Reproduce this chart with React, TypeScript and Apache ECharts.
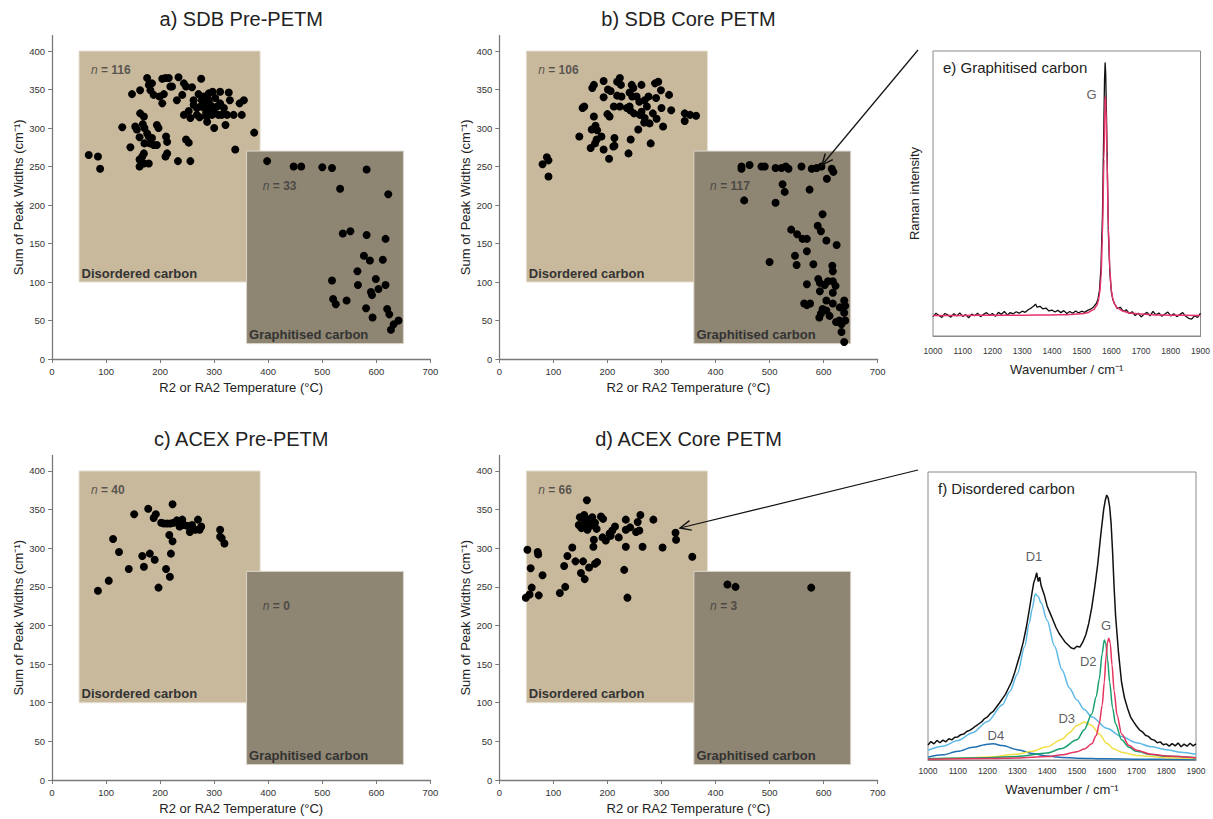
import React, { useEffect, useRef } from "react";
import * as echarts from "echarts";

const FONT = '"Liberation Sans", Arial, Helvetica, sans-serif';
const TAN = "#c9b99c";
const DARK = "#8e8572";
const AXIS = "#7a7a7a";

// ---------- tick labels ----------
const tempTicks = [0, 100, 200, 300, 400, 500, 600, 700];
const widthTicks = [0, 50, 100, 150, 200, 250, 300, 350, 400];

// ---------- panel a: SDB Pre-PETM ----------
const aDisordered: number[][] = [
  [68, 265], [85, 263], [89, 247], [130, 301], [145, 275], [148, 344], [154, 302], [157, 298], [162, 288], [163, 349],
  [162, 259], [162, 250], [163, 319], [170, 315], [168, 305], [171, 300], [176, 365], [179, 356], [182, 349], [185, 358],
  [188, 343], [176, 293], [179, 289], [181, 280], [185, 287], [188, 278], [171, 280], [170, 267], [170, 254], [179, 254],
  [167, 263], [194, 304], [197, 300], [194, 278], [199, 341], [204, 332], [207, 344], [204, 364], [210, 365], [216, 365],
  [219, 354], [222, 354], [211, 289], [213, 282], [210, 263], [213, 267], [234, 366], [241, 343], [244, 358], [248, 354],
  [231, 336], [244, 317], [248, 285], [253, 281], [233, 257], [256, 257], [256, 313], [259, 353], [262, 336], [268, 326],
  [271, 344], [273, 314], [276, 364], [277, 336], [281, 341], [282, 326], [286, 331], [286, 315], [287, 308], [290, 336],
  [292, 321], [293, 330], [296, 317], [297, 347], [300, 300], [302, 339], [305, 328], [308, 317], [311, 347], [314, 317],
  [318, 326], [321, 304], [324, 317], [327, 346], [329, 336], [339, 272], [347, 332], [351, 317], [355, 336], [374, 294],
  [285, 319], [299, 323], [275, 328], [268, 317], [290, 345], [311, 332], [253, 322], [262, 330], [336, 317],
];
const aGraphitised: number[][] = [
  [398, 257], [447, 250], [461, 250], [500, 249], [518, 248], [582, 246], [533, 221], [622, 214], [538, 163], [552, 166],
  [582, 161], [617, 156], [577, 134], [588, 128], [612, 129], [565, 114], [518, 102], [599, 104], [566, 96], [604, 91],
  [617, 96], [590, 87], [592, 83], [520, 78], [525, 71], [545, 76], [581, 66], [620, 65], [624, 58], [593, 54],
  [641, 50], [632, 45], [627, 38],
];

// ---------- panel b: SDB Core PETM ----------
const bDisordered: number[][] = [
  [80, 253], [88, 262], [91, 258], [91, 237], [148, 289], [154, 326], [157, 328], [169, 274], [171, 298], [172, 352],
  [175, 356], [175, 315], [177, 280], [178, 303], [181, 297], [180, 285], [189, 289], [193, 272], [193, 361], [193, 340],
  [200, 318], [201, 350], [203, 260], [206, 348], [213, 277], [213, 287], [212, 328], [218, 342], [218, 360], [223, 328],
  [223, 365], [225, 356], [226, 341], [239, 267], [241, 328], [242, 323], [243, 285], [241, 346], [245, 356], [248, 352],
  [246, 341], [254, 341], [257, 298], [259, 334], [263, 356], [263, 321], [268, 307], [269, 313], [273, 328], [276, 341],
  [278, 306], [280, 280], [284, 319], [288, 358], [290, 339], [291, 312], [294, 360], [299, 349], [300, 326], [303, 302],
  [314, 343], [318, 323], [343, 319], [343, 309], [353, 317], [364, 316], [269, 336], [260, 317], [249, 319], [236, 326],
  [211, 276], [204, 315],
];
const bGraphitised: number[][] = [
  [448, 250], [448, 247], [463, 252], [485, 250], [491, 250], [511, 248], [522, 248], [530, 250], [535, 247], [559, 250],
  [578, 247], [587, 248], [596, 250], [615, 247], [618, 243], [606, 234], [524, 227], [528, 217], [574, 220], [453, 206],
  [511, 203], [598, 188], [540, 168], [551, 162], [561, 156], [569, 156], [589, 173], [595, 166], [605, 154], [624, 148],
  [547, 134], [550, 122], [569, 140], [581, 123], [500, 126], [616, 121], [617, 114], [617, 101], [622, 95], [617, 86],
  [590, 104], [593, 99], [602, 96], [608, 101], [569, 97], [593, 88], [605, 76], [617, 72], [564, 72], [569, 70],
  [575, 72], [638, 76], [640, 69], [630, 67], [638, 60], [640, 50], [623, 48], [629, 50], [595, 59], [598, 65],
  [605, 63], [592, 54], [633, 35], [638, 22], [633, 45], [611, 56],
];

// ---------- panel c: ACEX Pre-PETM ----------
const cDisordered: number[][] = [
  [85, 245], [105, 258], [113, 312], [124, 295], [142, 273], [152, 344], [167, 290], [170, 276], [178, 351], [181, 293],
  [188, 339], [190, 285], [192, 344], [197, 249], [202, 333], [207, 332], [211, 273], [213, 332], [217, 317], [218, 263],
  [219, 332], [220, 293], [223, 357], [223, 309], [225, 333], [231, 336], [236, 328], [241, 337], [244, 330], [250, 329],
  [255, 321], [259, 330], [265, 324], [270, 337], [273, 324], [276, 328], [311, 324], [311, 315], [314, 313], [319, 306],
];
const cGraphitised: number[][] = [];

// ---------- panel d: ACEX Core PETM ----------
const dDisordered: number[][] = [
  [52, 298], [49, 236], [56, 240], [58, 274], [60, 249], [71, 295], [72, 292], [73, 239], [80, 265], [112, 242],
  [120, 277], [122, 250], [126, 290], [135, 301], [141, 283], [149, 340], [147, 330], [151, 268], [155, 283], [157, 343],
  [158, 260], [160, 333], [163, 324], [162, 362], [165, 337], [166, 275], [171, 330], [172, 340], [174, 302], [175, 311],
  [177, 333], [177, 280], [180, 325], [181, 282], [188, 341], [191, 314], [192, 338], [197, 310], [204, 319], [206, 316],
  [209, 323], [214, 328], [221, 314], [231, 272], [234, 337], [234, 302], [234, 324], [237, 236], [242, 327], [253, 321],
  [256, 334], [259, 323], [261, 343], [265, 302], [285, 337], [302, 301], [326, 320], [327, 311], [357, 289], [155, 338],
  [166, 328], [152, 326],
];
const dGraphitised: number[][] = [[422, 253], [437, 250], [577, 249]];

// ---------- e) graphitised carbon spectrum ----------
const wavenumberTicks = [1000, 1100, 1200, 1300, 1400, 1500, 1600, 1700, 1800, 1900];
const eMeasured: number[][] = [
  [1000, 6.8], [1010, 8.0], [1020, 7.2], [1030, 6.5], [1040, 7.9], [1050, 7.4], [1060, 6.6], [1070, 7.8], [1080, 7.0],
  [1090, 8.1], [1100, 6.9], [1110, 7.5], [1120, 6.4], [1130, 7.7], [1140, 7.1], [1150, 8.0], [1160, 6.8], [1170, 7.6],
  [1180, 8.2], [1190, 7.3], [1200, 7.9], [1210, 6.9], [1220, 8.3], [1230, 7.6], [1240, 8.6], [1250, 7.4], [1260, 8.2],
  [1270, 7.8], [1280, 8.5], [1290, 8.0], [1300, 8.7], [1310, 8.3], [1320, 9.2], [1330, 9.8], [1340, 10.6], [1345, 11.2],
  [1350, 10.1], [1360, 10.4], [1370, 9.5], [1380, 9.8], [1390, 8.8], [1400, 9.1], [1410, 8.4], [1420, 9.0], [1430, 8.2],
  [1440, 8.9], [1450, 7.9], [1460, 8.6], [1470, 8.0], [1480, 8.8], [1490, 8.1], [1500, 8.7], [1510, 8.3], [1520, 9.0],
  [1530, 9.4], [1540, 10.2], [1550, 11.5], [1555, 13.0], [1560, 16.0], [1565, 24.0], [1570, 42.0], [1574, 70.0],
  [1577, 90.0], [1579, 96.0], [1581, 92.0], [1584, 75.0], [1587, 55.0], [1590, 36.0], [1595, 22.0], [1600, 15.5],
  [1605, 12.8], [1610, 11.5], [1620, 9.6], [1630, 10.1], [1640, 8.6], [1650, 9.2], [1660, 7.9], [1670, 8.5], [1680, 7.2],
  [1690, 8.0], [1700, 6.7], [1710, 7.6], [1720, 8.3], [1730, 7.1], [1740, 8.6], [1750, 7.4], [1760, 8.1], [1770, 6.9],
  [1780, 7.7], [1790, 8.4], [1800, 7.0], [1810, 7.8], [1820, 6.8], [1830, 7.5], [1840, 8.2], [1850, 6.9], [1860, 6.2],
  [1870, 5.9], [1880, 7.1], [1890, 6.5], [1900, 8.0],
];
const eFitG: number[][] = [
  [1000, 7.2], [1100, 7.2], [1200, 7.3], [1300, 7.3], [1400, 7.4], [1450, 7.5], [1500, 7.8], [1520, 8.2], [1540, 9.2],
  [1550, 10.5], [1555, 11.8], [1560, 14.5], [1565, 20.0], [1570, 35.0], [1575, 62.0], [1578, 80.0], [1580, 84.0],
  [1582, 80.0], [1585, 64.0], [1590, 38.0], [1595, 23.0], [1600, 16.0], [1605, 13.0], [1610, 11.3], [1620, 9.8],
  [1640, 8.7], [1660, 8.1], [1700, 7.7], [1750, 7.4], [1800, 7.3], [1900, 7.2],
];

// ---------- f) disordered carbon spectrum ----------
const fMeasured: number[][] = [
  [1000, 5.2], [1010, 6.4], [1020, 5.6], [1030, 6.8], [1040, 6.0], [1050, 6.9], [1060, 6.3], [1070, 7.4], [1080, 7.0],
  [1090, 7.9], [1100, 8.0], [1110, 8.8], [1120, 9.0], [1130, 9.9], [1140, 10.3], [1150, 11.0], [1160, 11.8], [1170, 12.5],
  [1180, 13.2], [1190, 14.4], [1200, 15.0], [1210, 16.2], [1220, 17.0], [1230, 18.4], [1240, 19.8], [1250, 21.3],
  [1260, 22.8], [1270, 24.9], [1280, 27.0], [1290, 30.0], [1300, 33.5], [1310, 37.0], [1320, 41.0], [1330, 46.0],
  [1340, 52.0], [1350, 58.5], [1355, 61.5], [1360, 63.0], [1365, 65.0], [1370, 62.0], [1375, 63.5], [1380, 60.5],
  [1390, 57.5], [1400, 53.5], [1410, 51.0], [1420, 48.5], [1430, 46.0], [1440, 44.0], [1450, 42.5], [1460, 41.0],
  [1470, 40.0], [1480, 39.0], [1490, 38.6], [1500, 39.5], [1510, 39.2], [1520, 41.0], [1530, 43.5], [1540, 47.5],
  [1550, 53.0], [1560, 60.0], [1570, 68.0], [1580, 78.0], [1590, 87.0], [1595, 90.0], [1600, 92.0], [1605, 91.0],
  [1610, 88.0], [1615, 82.0], [1620, 72.0], [1625, 60.0], [1630, 50.0], [1640, 37.0], [1650, 27.0], [1660, 21.5],
  [1670, 18.0], [1680, 15.0], [1690, 13.3], [1700, 11.8], [1710, 10.5], [1720, 9.8], [1730, 8.6], [1740, 8.2],
  [1750, 7.2], [1760, 6.9], [1770, 6.0], [1780, 6.3], [1790, 5.3], [1800, 5.6], [1810, 4.8], [1820, 5.7], [1830, 4.9],
  [1840, 5.9], [1850, 4.6], [1860, 5.5], [1870, 4.8], [1880, 5.8], [1890, 4.9], [1900, 5.6],
];
const fD1: number[][] = [
  [1000, 3.4], [1050, 4.8], [1100, 6.8], [1150, 9.5], [1200, 13.4], [1250, 19.2], [1275, 23.8], [1300, 29.8],
  [1325, 39.5], [1340, 47.5], [1350, 52.5], [1360, 57.6], [1370, 56.8], [1380, 54.5], [1400, 48.5], [1425, 39.5],
  [1450, 31.3], [1475, 25.0], [1500, 20.8], [1525, 17.5], [1550, 15.0], [1600, 11.0], [1650, 8.2], [1700, 6.0],
  [1750, 4.6], [1800, 3.6], [1850, 2.7], [1900, 2.0],
];
const fD4: number[][] = [
  [1000, 1.0], [1050, 1.8], [1100, 3.0], [1150, 4.4], [1200, 5.5], [1220, 5.6], [1250, 5.0], [1300, 3.6], [1350, 2.3],
  [1400, 1.4], [1450, 0.9], [1500, 0.6], [1600, 0.4], [1700, 0.3], [1900, 0.2],
];
const fD3: number[][] = [
  [1000, 0.4], [1100, 0.6], [1200, 1.0], [1300, 2.0], [1350, 3.0], [1400, 4.6], [1450, 7.2], [1475, 9.5], [1500, 12.0],
  [1525, 13.2], [1550, 12.0], [1575, 9.0], [1600, 5.8], [1625, 3.8], [1650, 2.7], [1700, 1.6], [1800, 0.8], [1900, 0.5],
];
const fD2: number[][] = [
  [1000, 0.5], [1200, 0.8], [1300, 1.2], [1400, 2.4], [1450, 4.0], [1500, 7.0], [1525, 10.5], [1550, 16.0], [1565, 22.0],
  [1575, 28.0], [1585, 37.0], [1592, 41.7], [1597, 40.5], [1603, 35.0], [1610, 27.0], [1620, 18.0], [1630, 12.5],
  [1650, 7.0], [1675, 4.4], [1700, 3.0], [1750, 1.9], [1800, 1.3], [1900, 0.8],
];
const fG: number[][] = [
  [1000, 0.3], [1200, 0.5], [1300, 0.7], [1400, 1.2], [1450, 1.8], [1500, 2.9], [1525, 3.8], [1550, 5.6], [1565, 8.5],
  [1575, 12.5], [1585, 19.0], [1592, 27.0], [1598, 36.0], [1603, 41.0], [1607, 42.3], [1612, 40.5], [1618, 33.0],
  [1625, 24.0], [1635, 15.5], [1650, 9.0], [1675, 5.0], [1700, 3.4], [1750, 2.0], [1800, 1.4], [1900, 0.8],
];
const ePeakLabels: (number | string)[][] = [[1533, 84.6, "G"]];
const fPeakLabels: (number | string)[][] = [
  [1356, 70.6, "D1"], [1538, 34.1, "D2"], [1598, 46.6, "G"], [1466, 14.5, "D3"], [1228, 8.4, "D4"],
];

// ---------- panels ----------
const panels = [
  { title: "a) SDB Pre-PETM", dis: aDisordered, gra: aGraphitised, nDis: 116, nGra: 33 },
  { title: "b) SDB Core PETM", dis: bDisordered, gra: bGraphitised, nDis: 106, nGra: 117 },
  { title: "c) ACEX Pre-PETM", dis: cDisordered, gra: cGraphitised, nDis: 40, nGra: 0 },
  { title: "d) ACEX Core PETM", dis: dDisordered, gra: dGraphitised, nDis: 66, nGra: 3 },
];
const scatterGrids = [
  { left: 52, top: 35.6, width: 378.4, height: 323.4 },
  { left: 499.3, top: 35.6, width: 378.4, height: 323.4 },
  { left: 52, top: 455.5, width: 378.4, height: 324.5 },
  { left: 499.3, top: 455.5, width: 378.4, height: 324.5 },
];
const eGrid = { left: 933, top: 51, width: 270, height: 285 };
const fGrid = { left: 928, top: 472, width: 268, height: 288 };

function arrowElements(x1: number, y1: number, x2: number, y2: number) {
  const dx = x1 - x2;
  const dy = y1 - y2;
  const len = Math.sqrt(dx * dx + dy * dy);
  const ux = dx / len;
  const uy = dy / len;
  const a = (24 * Math.PI) / 180;
  const h = 12;
  const w1 = [x2 + h * (ux * Math.cos(a) - uy * Math.sin(a)), y2 + h * (ux * Math.sin(a) + uy * Math.cos(a))];
  const w2 = [x2 + h * (ux * Math.cos(a) + uy * Math.sin(a)), y2 + h * (-ux * Math.sin(a) + uy * Math.cos(a))];
  return [
    { type: "line", z: 100, shape: { x1, y1, x2, y2 }, style: { stroke: "#111", lineWidth: 1.2 } },
    { type: "polyline", z: 100, shape: { points: [w1, [x2, y2], w2] }, style: { stroke: "#111", lineWidth: 1.4, fill: null } },
  ];
}

function buildOption() {
  const grid: any[] = [];
  const xAxis: any[] = [];
  const yAxis: any[] = [];
  const series: any[] = [];
  const graphic: any[] = [];

  panels.forEach((p, i) => {
    const g = scatterGrids[i];
    grid.push({ ...g, containLabel: false });
    xAxis.push({
      gridIndex: i, type: "value", min: 0, max: 700, interval: 100,
      axisLine: { show: true, lineStyle: { color: AXIS, width: 1.3 } },
      axisTick: { show: true, length: 4, lineStyle: { color: AXIS }, customValues: tempTicks },
      axisLabel: { fontSize: 9.5, color: "#333", margin: 7, fontFamily: FONT, customValues: tempTicks, formatter: (v: number) => String(v) },
      splitLine: { show: false },
      name: "R2 or RA2 Temperature (°C)", nameLocation: "middle", nameGap: 22,
      nameTextStyle: { fontSize: 13, color: "#222", fontFamily: FONT },
    });
    yAxis.push({
      gridIndex: i, type: "value", min: 0, max: 420, interval: 50,
      axisLine: { show: true, lineStyle: { color: AXIS, width: 1.3 } },
      axisTick: { show: true, length: 4, lineStyle: { color: AXIS }, customValues: widthTicks },
      axisLabel: { fontSize: 9.5, color: "#333", margin: 7, fontFamily: FONT, customValues: widthTicks, formatter: (v: number) => String(v) },
      splitLine: { show: false },
      name: "Sum of Peak Widths (cm⁻¹)", nameLocation: "middle", nameGap: 27,
      nameTextStyle: { fontSize: 13, color: "#222", fontFamily: FONT },
    });
    series.push({
      type: "scatter", xAxisIndex: i, yAxisIndex: i, data: [], silent: true, z: 1,
      markArea: {
        silent: true,
        label: {
          show: true, position: "insideBottomLeft", distance: 3,
          fontFamily: FONT, fontSize: 13, fontWeight: "bold", color: "#333",
        },
        data: [
          [
            { name: "Disordered carbon", xAxis: 50, yAxis: 100, itemStyle: { color: TAN, opacity: 1, borderColor: "#e6dfd2", borderWidth: 1 } },
            { xAxis: 385, yAxis: 400 },
          ],
          [
            { name: "Graphitised carbon", xAxis: 360, yAxis: 20, itemStyle: { color: DARK, opacity: 1, borderColor: "#d9d4ca", borderWidth: 1 } },
            { xAxis: 650, yAxis: 270 },
          ],
        ],
      },
    });
    series.push({
      type: "scatter", xAxisIndex: i, yAxisIndex: i, z: 3, silent: true,
      symbol: "circle", symbolSize: 8, itemStyle: { color: "#000", opacity: 1 },
      data: [...p.dis, ...p.gra],
    });
    series.push({
      type: "scatter", xAxisIndex: i, yAxisIndex: i, z: 4, silent: true, symbolSize: 0,
      data: [[72, 375, p.nDis], [390, 225, p.nGra]],
      label: {
        show: true, position: "right", distance: 0,
        formatter: (q: any) => `{i|n}{b| = ${q.value[2]}}`,
        rich: {
          i: { fontFamily: FONT, fontSize: 12, fontStyle: "italic", color: "#3a3a3a" },
          b: { fontFamily: FONT, fontSize: 12, fontWeight: "bold", color: "#3a3a3a" },
        },
      },
    });
    graphic.push({
      type: "text", z: 100, x: g.left + g.width / 2, y: i < 2 ? 19 : 439,
      style: { text: p.title, fontFamily: FONT, fontSize: 20, fill: "#222", align: "center", verticalAlign: "middle" },
    });
  });

  // spectra grids
  [eGrid, fGrid].forEach((g, k) => {
    const gi = 4 + k;
    grid.push({ ...g, show: true, borderColor: "#8a8a8a", borderWidth: 1, backgroundColor: "transparent" });
    xAxis.push({
      gridIndex: gi, type: "value", min: 1000, max: 1900, interval: 100,
      axisLine: { show: true, lineStyle: { color: "#8a8a8a", width: 1 } },
      axisTick: { show: false },
      axisLabel: {
        fontSize: 8.5, color: "#333", margin: k === 0 ? 10 : 6, fontFamily: FONT,
        customValues: wavenumberTicks, formatter: (v: number) => String(v),
      },
      splitLine: { show: false },
      name: "Wavenumber / cm⁻¹", nameLocation: "middle", nameGap: k === 0 ? 27 : 23,
      nameTextStyle: { fontSize: 13, color: "#222", fontFamily: FONT },
    });
    yAxis.push({
      gridIndex: gi, type: "value", min: 0, max: 100,
      axisLine: { show: false }, axisTick: { show: false }, axisLabel: { show: false }, splitLine: { show: false },
      name: k === 0 ? "Raman intensity" : "", nameLocation: "middle", nameGap: 12,
      nameTextStyle: { fontSize: 13, color: "#222", fontFamily: FONT },
    });
  });

  const line = (gi: number, data: number[][], color: string, width: number, smooth: boolean, z = 2) => ({
    type: "line", xAxisIndex: gi, yAxisIndex: gi, data, showSymbol: false, symbol: "none", silent: true, z,
    smooth: smooth ? 0.3 : false, smoothMonotone: "x",
    lineStyle: { color, width }, itemStyle: { color },
  });

  series.push(line(4, eMeasured, "#111", 1.3, false, 2));
  series.push(line(4, eFitG, "#e8336a", 1.5, true, 3));
  series.push(line(5, fD4, "#1f6fb2", 1.5, true));
  series.push(line(5, fD1, "#5cb8e6", 1.5, true));
  series.push(line(5, fD3, "#f0df45", 1.5, true));
  series.push(line(5, fD2, "#19a06c", 1.5, true));
  series.push(line(5, fG, "#e6335f", 1.5, true));
  series.push(line(5, fMeasured, "#111", 1.5, false, 3));

  const peakLabels = (gi: number, data: any[]) => ({
    type: "scatter", xAxisIndex: gi, yAxisIndex: gi, symbolSize: 0, silent: true, z: 5, data,
    label: {
      show: true, position: "inside", formatter: (q: any) => q.value[2],
      fontFamily: FONT, fontSize: 13, color: "#333",
    },
  });
  series.push(peakLabels(4, ePeakLabels));
  series.push(peakLabels(5, fPeakLabels));

  graphic.push({
    type: "text", z: 100, x: 943, y: 67,
    style: { text: "e) Graphitised carbon", fontFamily: FONT, fontSize: 15, fill: "#222", align: "left", verticalAlign: "middle" },
  });
  graphic.push({
    type: "text", z: 100, x: 938, y: 488,
    style: { text: "f) Disordered carbon", fontFamily: FONT, fontSize: 15, fill: "#222", align: "left", verticalAlign: "middle" },
  });
  graphic.push(...arrowElements(918, 50, 822, 165));
  graphic.push(...arrowElements(918, 470, 680, 528));

  return { animation: false, backgroundColor: "#fff", grid, xAxis, yAxis, series, graphic };
}

export default function App() {
  const ref = useRef<HTMLDivElement>(null);
  useEffect(() => {
    if (!ref.current) return;
    const chart = echarts.init(ref.current, undefined, { renderer: "svg" });
    chart.setOption(buildOption() as any);
    return () => chart.dispose();
  }, []);
  return (
    <div
      ref={ref}
      style={{ position: "fixed", left: 0, top: 0, width: 1213, height: 819, background: "#fff" }}
    />
  );
}
